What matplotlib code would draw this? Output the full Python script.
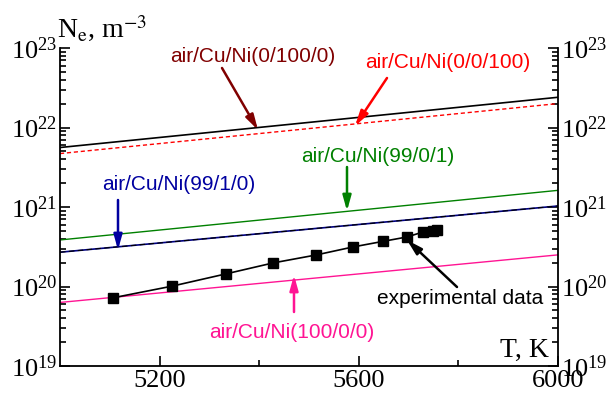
import matplotlib
matplotlib.use("Agg")
import matplotlib.pyplot as plt
from matplotlib.ticker import LogLocator, FixedLocator, NullFormatter

plt.rcParams['font.family'] = 'Liberation Serif'
plt.rcParams['mathtext.fontset'] = 'stix'

# model curves (end points, straight in log scale)
t_model = [5000, 6000]
ne_0_100_0 = [5.6e21, 2.4e22]
ne_0_0_100 = [4.7e21, 2.0e22]
ne_99_0_1 = [3.85e20, 1.62e21]
ne_99_1_0 = [2.7e20, 1.03e21]
ne_100_0_0 = [6.3e19, 2.5e20]

# experimental points
t_exp = [5106, 5225, 5333, 5428, 5514, 5588, 5649, 5697, 5729, 5749, 5757]
ne_exp = [7.2e19, 1.01e20, 1.44e20, 1.98e20, 2.49e20, 3.14e20, 3.7e20,
          4.2e20, 4.85e20, 5.0e20, 5.1e20]
ne_err = [0.05, 0.05, 0.05, 0.05, 0.05, 0.05, 0.05, 0.05, 0.05, 0.05, 0.05]

H = 397
fig = plt.figure(figsize=(6.08, 3.97), dpi=100)
ax = fig.add_axes([60 / 608, 1 - 366 / H, 498 / 608, 318 / H])

ax.plot(t_model, ne_0_100_0, color='black', lw=1.2)
ax.plot(t_model, ne_0_0_100, color='red', lw=1, ls=(0, (3, 2)))
ax.plot(t_model, ne_99_0_1, color='green', lw=1)
ax.plot(t_model, ne_99_1_0, color='navy', lw=1.2)
ax.plot(t_model, ne_99_1_0, color='black', lw=0.8, ls=(0, (5, 3)))
ax.plot(t_model, ne_100_0_0, color='#ff1493', lw=1)
err = [v * e for v, e in zip(ne_exp, ne_err)]
ax.errorbar(t_exp, ne_exp, yerr=[err, err], color='black', lw=1.2, marker='s',
            ms=6.5, capsize=0, elinewidth=1)

ax.set_xlim(5000, 6000)
ax.set_yscale('log')
ax.set_ylim(1e19, 1e23)
ax.xaxis.set_major_locator(FixedLocator([5200, 5600, 6000]))
ax.xaxis.set_minor_locator(FixedLocator([5400, 5800]))
ax.yaxis.set_major_locator(LogLocator(base=10, numticks=10))
ax.yaxis.set_minor_locator(LogLocator(base=10, subs=range(2, 10), numticks=50))
ax.yaxis.set_minor_formatter(NullFormatter())
ax.spines['top'].set_visible(False)
ax.tick_params(which='both', direction='in', labelsize=19, top=False, right=True,
               labelright=True, width=1.2)
ax.tick_params(which='major', length=7)
ax.tick_params(which='minor', length=4)
ax.tick_params(axis='x', pad=3)
ax.tick_params(axis='y', pad=2)
for s in ['left', 'right', 'bottom']:
    ax.spines[s].set_linewidth(1.3)

fig.text(57 / 608, 1 - 38 / H, r'N$_{\rm e}$, m$^{-3}$', fontsize=20,
         va='baseline', ha='left')
fig.text(549 / 608, 1 - 357 / H, 'T, K', fontsize=20, ha='right', va='baseline')


def note(text, color, tip, start, center):
    # positions given in reference pixels (from top-left)
    ax.annotate('', xy=(tip[0], H - tip[1]), xytext=(start[0], H - start[1]),
                xycoords='figure pixels', textcoords='figure pixels',
                arrowprops=dict(arrowstyle='-|>,head_length=0.9,head_width=0.25',
                                color=color, lw=1.8, shrinkA=0, shrinkB=0))
    fig.text(center[0] / 608, 1 - center[1] / H, text, color=color, fontsize=15,
             family='Liberation Sans', ha='center', va='center')


note('air/Cu/Ni(0/100/0)', '#800000', (258, 130), (222, 68), (253, 56))
note('air/Cu/Ni(0/0/100)', '#ff0000', (355, 126), (387, 78), (448, 63))
note('air/Cu/Ni(99/0/1)', 'green', (347, 211), (347, 167), (378, 156))
note('air/Cu/Ni(99/1/0)', '#0000a0', (118, 250), (118, 200), (179, 185))
note('experimental data', 'black', (407, 240), (457, 287), (460, 299))
note('air/Cu/Ni(100/0/0)', '#ff1493', (294, 275), (294, 312), (292, 332))

fig.savefig('out.png', dpi=100)
